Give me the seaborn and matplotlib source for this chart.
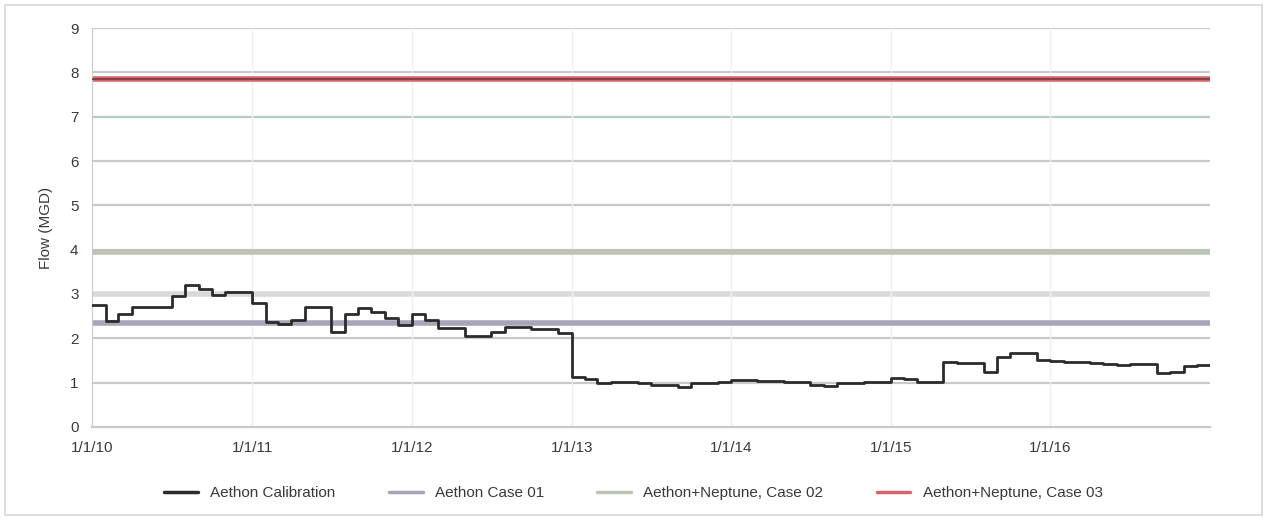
import numpy as np
import pandas as pd
import matplotlib
matplotlib.use("Agg")
import matplotlib.pyplot as plt
import matplotlib.dates as mdates
import seaborn as sns

# monthly calibration flow, Jan 2010 - Dec 2016 (MGD)
months = pd.date_range("2010-01-01", "2016-12-01", freq="MS")
calibration = [
    2.75, 2.40, 2.55, 2.70, 2.70, 2.70, 2.95, 3.20, 3.12, 2.98, 3.05, 3.05,
    2.80, 2.37, 2.33, 2.42, 2.70, 2.70, 2.15, 2.55, 2.69, 2.60, 2.45, 2.30,
    2.55, 2.42, 2.23, 2.23, 2.05, 2.05, 2.15, 2.25, 2.26, 2.22, 2.20, 2.12,
    1.13, 1.08, 0.99, 1.02, 1.02, 1.00, 0.95, 0.95, 0.90, 1.00, 1.00, 1.02,
    1.06, 1.06, 1.04, 1.04, 1.02, 1.02, 0.95, 0.92, 1.00, 1.00, 1.02, 1.02,
    1.10, 1.08, 1.02, 1.02, 1.47, 1.45, 1.45, 1.24, 1.58, 1.66, 1.66, 1.50,
    1.48, 1.47, 1.47, 1.45, 1.42, 1.40, 1.42, 1.43, 1.21, 1.25, 1.38, 1.39,
]
case01 = 2.35
case02 = 3.95
case03 = 7.85

series_names = ["Aethon Calibration", "Aethon Case 01",
                "Aethon+Neptune, Case 02", "Aethon+Neptune, Case 03"]
series_colors = ["#2b2b2b", "#a9a4b8", "#bcc5b3", "#d9646c"]

start = pd.Timestamp("2010-01-01")
end = pd.Timestamp("2016-12-31")
month_x = list(months) + [end]

cal = pd.DataFrame({"date": month_x, "flow": calibration + [calibration[-1]]})
flat = pd.DataFrame({
    "date": [start, end] * 3,
    "flow": [case01, case01, case02, case02, case03, case03],
    "series": [series_names[1]] * 2 + [series_names[2]] * 2 + [series_names[3]] * 2,
})

sns.set_style("white")
plt.rcParams["font.family"] = ["Liberation Sans Narrow", "Liberation Sans", "DejaVu Sans"]

fig = plt.figure(figsize=(12.67, 5.2), dpi=100)
ax = fig.add_axes([0.073, 0.179, 0.882, 0.767])

# gridlines
for yv in range(1, 10):
    gc = "#b9cbc9" if yv == 7 else "#c9c9c9"
    ax.axhline(yv, color=gc, lw=1.6, zorder=0)
ax.axhline(3, color="#d9d9d9", lw=4, zorder=0)
for yr in range(2011, 2017):
    ax.axvline(pd.Timestamp(f"{yr}-01-01"), color="#f0f0f0", lw=1, zorder=0)

sns.lineplot(data=flat, x="date", y="flow", hue="series",
             hue_order=series_names[1:], palette=series_colors[1:],
             linewidth=4, ax=ax, legend=False, zorder=2)
ax.axhline(case03, color="#7a3a40", lw=1.2, zorder=3)
sns.lineplot(data=cal, x="date", y="flow", color=series_colors[0],
             linewidth=2, drawstyle="steps-post", ax=ax, zorder=4)

ax.set_xlim(start, end)
ax.set_ylim(0, 9)
ax.set_yticks(range(0, 10))
ax.xaxis.set_major_locator(mdates.YearLocator())
ax.xaxis.set_major_formatter(mdates.DateFormatter("1/1/%y"))
ax.tick_params(axis="both", length=0, labelsize=11, colors="#3a3a3a", pad=10)
ax.set_xlabel("")
ax.set_ylabel("Flow (MGD)", fontsize=11, color="#3a3a3a", labelpad=12)

for side in ["top", "right"]:
    ax.spines[side].set_visible(False)
ax.spines["left"].set_color("#c9c9c9")
ax.spines["bottom"].set_color("#c9c9c9")
ax.spines["bottom"].set_linewidth(1.6)

handles = [plt.Line2D([], [], color=c, lw=2.5) for c in series_colors]
fig.legend(handles, series_names, loc="center", bbox_to_anchor=(0.5, 0.052),
           ncol=4, frameon=False, fontsize=11, handlelength=2.2,
           columnspacing=3.5, labelcolor="#3a3a3a")

fig.patches.append(plt.Rectangle((0.004, 0.01), 0.992, 0.98, transform=fig.transFigure,
                                 fill=False, edgecolor="#d8d8d8", lw=1.2))

fig.savefig("out.png", dpi=100)
